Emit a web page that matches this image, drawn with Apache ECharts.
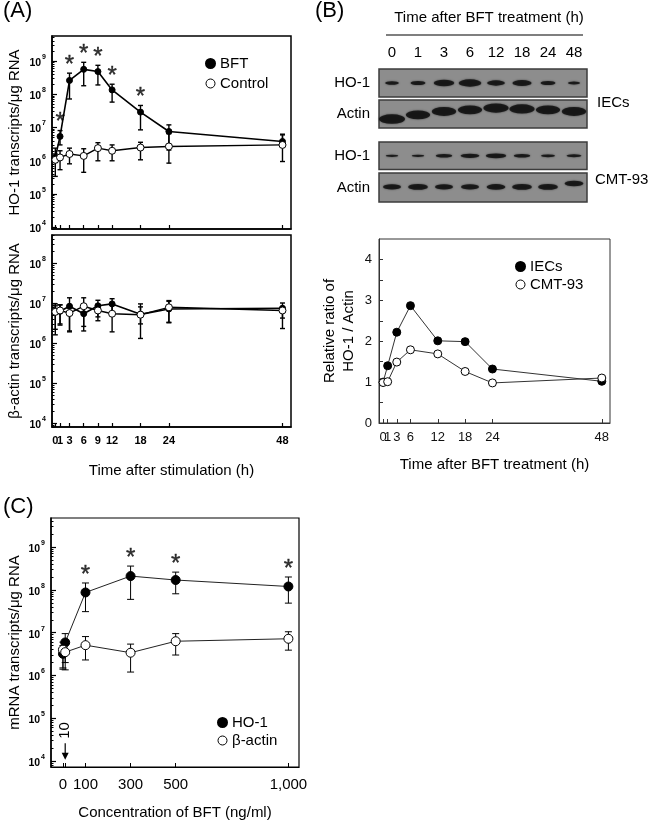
<!DOCTYPE html>
<html><head><meta charset="utf-8">
<script src="https://cdn.jsdelivr.net/npm/echarts@6/dist/echarts.min.js"></script>
<style>html,body{margin:0;padding:0;background:#fff}#c{width:650px;height:824px}</style>
</head><body><div id="c"></div>
<script>
// ---------- Panel A : HO-1 / beta-actin transcripts vs time ----------
const timeA = [0, 1, 3, 6, 9, 12, 18, 24, 48];
const ho1BFT   = [1.26e6, 5.4e6, 2.6e8, 5.6e8, 4.8e8, 1.35e8, 2.9e7, 7.6e6, 3.8e6];
const ho1BFTHi = [1.6e6, 8.1e6, 4.3e8, 9.1e8, 7.4e8, 2.0e8, 4.6e7, 1.2e7, 6.0e6];
const ho1BFTLo = [8.9e5, 3.0e6, 7.2e7, 1.8e8, 1.9e8, 5.8e7, 8.5e6, 2.1e6, 2.7e6];
const ho1Ctl   = [1.07e6, 1.26e6, 1.6e6, 1.4e6, 2.4e6, 2.0e6, 2.5e6, 2.7e6, 3.0e6];
const ho1CtlHi = [2.4e6, 2.0e6, 2.4e6, 2.3e6, 3.5e6, 3.0e6, 3.6e6, 6.5e6, 6.3e6];
const ho1CtlLo = [3.4e5, 5.4e5, 8.1e5, 4.5e5, 1.0e6, 1.0e6, 1.07e6, 8.5e5, 9.5e5];
const sigA = [1, 3, 6, 9, 12, 18];
const actBFT   = [6.4e6, 6.2e6, 8.3e6, 5.4e6, 8.5e6, 9.5e6, 5.2e6, 7.1e6, 7.4e6];
const actBFTHi = [9.5e6, 9.0e6, 1.35e7, 9.0e6, 1.17e7, 1.28e7, 8.0e6, 1.1e7, 1.0e7];
const actBFTLo = [2.2e6, 3.0e6, 1.9e6, 2.0e6, 4.5e6, 5.5e6, 3.0e6, 3.3e6, 4.2e6];
const actCtl   = [6.0e6, 6.5e6, 5.6e6, 8.3e6, 6.5e6, 5.4e6, 5.1e6, 7.8e6, 6.5e6];
const actCtlHi = [8.5e6, 9.0e6, 9.0e6, 1.35e7, 9.0e6, 9.0e6, 9.5e6, 1.15e7, 8.0e6];
const actCtlLo = [1.6e6, 2.8e6, 2.0e6, 2.6e6, 3.6e6, 1.9e6, 1.3e6, 3.2e6, 2.3e6];
const decadesA1 = [4, 5, 6, 7, 8, 9];
const decadesA2 = [4, 5, 6, 7, 8];
const crowdedTick = [1]; // label drawn on its own, next to the 0 label

// ---------- Panel B : western blot + densitometry ----------
const lanes = ['0', '1', '3', '6', '12', '18', '24', '48'];
const iecHO1Int   = [0.25, 0.35, 0.75, 0.9, 0.55, 0.65, 0.35, 0.15];
const iecActInt   = [0.95, 0.85, 0.85, 0.85, 0.9, 0.9, 0.85, 0.85];
const iecActShift = [0.32, 0.47, 0.59, 0.65, 0.71, 0.68, 0.65, 0.59];
const cmtHO1Int   = [0.15, 0.15, 0.4, 0.55, 0.65, 0.4, 0.25, 0.3];
const cmtActInt   = [0.55, 0.65, 0.55, 0.55, 0.6, 0.65, 0.65, 0.6];
const cmtActShift = [0.52, 0.52, 0.52, 0.52, 0.52, 0.52, 0.52, 0.64];
const timeB = [0, 1, 3, 6, 12, 18, 24, 48];
const ratioIEC = [1.0, 1.4, 2.22, 2.87, 2.01, 1.99, 1.32, 1.02];
const ratioCMT = [0.99, 1.01, 1.49, 1.79, 1.69, 1.26, 0.98, 1.10];
const ticksBy = [0, 1, 2, 3, 4];
const minorBy = [0, 0.5, 1, 1.5, 2, 2.5, 3, 3.5, 4];

// ---------- Panel C : dose response ----------
const conc = [0, 10, 100, 300, 500, 1000];
const ho1C   = [3.2e6, 5.9e6, 8.7e7, 2.1e8, 1.7e8, 1.2e8];
const ho1CHi = [5.0e6, 9.5e6, 1.45e8, 3.6e8, 2.6e8, 2.0e8];
const ho1CLo = [1.4e6, 2.0e6, 3.1e7, 6.0e7, 8.1e7, 4.9e7];
const actC   = [4.0e6, 3.5e6, 5.1e6, 3.4e6, 6.3e6, 7.2e6];
const actCHi = [6.0e6, 6.2e6, 8.1e6, 5.4e6, 9.5e6, 1.05e7];
const actCLo = [1.5e6, 1.35e6, 2.3e6, 1.2e6, 3.0e6, 3.9e6];
const sigC = [100, 300, 500, 1000];
const concTicks = [0, 10, 100, 300, 500, 1000];
const concLabels = [0, 100, 300, 500, 1000];
const decadesC = [4, 5, 6, 7, 8, 9];
const arrowC = [[10, 2.6e4, 1.07e4, 5.2e4]]; // x, arrow start, arrow tip, label position

// ---------- helpers ----------
const FF = 'Liberation Sans, Arial, Helvetica, sans-serif';
const L = v => Math.log10(v);
function logMinor(lo, hi) {
  const out = [];
  for (let d = Math.floor(lo); d < hi; d++)
    for (let k = 2; k <= 9; k++) { const v = d + Math.log10(k); if (v > lo && v < hi) out.push(v); }
  return out;
}
const supFmt = v => '{b|10}{s|' + Math.round(v) + '}';
const supRich = {
  b: {fontSize: 10.5, fontWeight: 'bold', fontFamily: FF, color: '#000', lineHeight: 15, verticalAlign: 'bottom'},
  s: {fontSize: 7, fontWeight: 'bold', fontFamily: FF, color: '#000', lineHeight: 15, verticalAlign: 'top', padding: [0, 0, 0, 1]}
};

function lineS(name, xs, ys, xi, yi, filled, size, lw, lcol, logy) {
  return {
    type: 'line', name, xAxisIndex: xi, yAxisIndex: yi, z: 5,
    data: xs.map((x, i) => [x, logy ? L(ys[i]) : ys[i]]),
    symbol: 'circle', symbolSize: size, showSymbol: true,
    lineStyle: {color: lcol, width: lw},
    itemStyle: filled ? {color: '#000', borderColor: '#000', borderWidth: 1} : {color: '#fff', borderColor: '#000', borderWidth: 1},
    emphasis: {disabled: true}, animation: false
  };
}
function errS(xs, lo, hi, xi, yi, cap, lw) {
  return {
    type: 'custom', xAxisIndex: xi, yAxisIndex: yi, z: 3, silent: true,
    data: xs.map((x, i) => [x, L(lo[i]), L(hi[i])]),
    encode: {x: 0, y: [1, 2]},
    renderItem: (p, api) => {
      const x = api.value(0);
      const a = api.coord([x, api.value(1)]), b = api.coord([x, api.value(2)]);
      const st = {stroke: '#000', lineWidth: lw};
      return {type: 'group', children: [
        {type: 'line', shape: {x1: a[0], y1: a[1], x2: b[0], y2: b[1]}, style: st},
        {type: 'line', shape: {x1: a[0] - cap, y1: a[1], x2: a[0] + cap, y2: a[1]}, style: st},
        {type: 'line', shape: {x1: b[0] - cap, y1: b[1], x2: b[0] + cap, y2: b[1]}, style: st}
      ]};
    }
  };
}
function starS(sig, xs, hi, xi, yi, dist) {
  return {
    type: 'scatter', xAxisIndex: xi, yAxisIndex: yi, silent: true, z: 6,
    data: sig.map(s => [s, L(hi[xs.indexOf(s)])]),
    symbolSize: 2, itemStyle: {color: 'rgba(0,0,0,0)'},
    label: {show: true, position: 'top', distance: dist, formatter: '*', fontSize: 24, fontFamily: FF,
            color: '#000', textBorderColor: '#000', textBorderWidth: 0.4}
  };
}
function bandS(xi, yi, intens, shift, wBase, wGain, hBase, hGain) {
  return {
    type: 'scatter', xAxisIndex: xi, yAxisIndex: yi, silent: true, z: 4,
    data: intens.map((v, i) => ({value: [i, shift ? shift[i] : 0.5], symbolSize: [wBase + wGain * v, hBase + hGain * v]})),
    symbol: 'circle',
    itemStyle: {color: '#0c0c0c', shadowBlur: 2, shadowColor: 'rgba(0,0,0,0.7)'}
  };
}
function logY(gi, min, max, decs, name, gap) {
  return {
    type: 'value', gridIndex: gi, min, max, position: 'left',
    name, nameLocation: 'middle', nameGap: gap, nameRotate: 90,
    nameTextStyle: {fontSize: 15, fontFamily: FF, color: '#000'},
    axisLine: {show: true, onZero: false, lineStyle: {color: '#000', width: 1.5}},
    axisTick: {show: true, inside: true, length: 5, lineStyle: {color: '#000', width: 1.2}, customValues: decs},
    axisLabel: {show: true, margin: 6, formatter: supFmt, rich: supRich, customValues: decs},
    splitLine: {show: false}
  };
}
function minorY(gi, min, max) {
  return {
    type: 'value', gridIndex: gi, min, max, position: 'left',
    axisLine: {show: false, onZero: false}, axisLabel: {show: false}, splitLine: {show: false},
    axisTick: {show: true, inside: true, length: 2.5, lineStyle: {color: '#000', width: 1}, customValues: logMinor(min, max)}
  };
}
function extraX(gi, min, max, vals, lab) {
  return {
    type: 'value', gridIndex: gi, min, max, position: 'bottom',
    axisLine: {show: false, onZero: false}, axisTick: {show: false}, splitLine: {show: false},
    axisLabel: Object.assign({customValues: vals, hideOverlap: false}, lab)
  };
}

const blotGrid = (top, h) => ({left: 379, top, width: 208, height: h, show: true, backgroundColor: '#8d8d8d', borderColor: '#3c3c3c', borderWidth: 1.5, outerBoundsMode: 'none'});
const xLab = {hideOverlap: false, showMinLabel: true, showMaxLabel: true};
const labA = {margin: 8, fontSize: 11, fontWeight: 'bold', color: '#000', fontFamily: FF};
const labB = {margin: 8, fontSize: 13, color: '#111', fontFamily: FF};
const legText = {fontSize: 15, fontFamily: FF, color: '#000'};

const option = {
  animation: false,
  backgroundColor: '#fff',
  textStyle: {fontFamily: FF},
  grid: [
    {left: 52, top: 36, width: 239, height: 193, show: true, borderColor: '#000', borderWidth: 1.5, outerBoundsMode: 'none'},
    {left: 52, top: 235, width: 239, height: 192, show: true, borderColor: '#000', borderWidth: 1.5, outerBoundsMode: 'none'},
    {left: 379, top: 239, width: 231, height: 184, show: true, borderColor: '#333', borderWidth: 1, outerBoundsMode: 'none'},
    {left: 51, top: 518, width: 248, height: 249, show: true, borderColor: '#000', borderWidth: 1.2, outerBoundsMode: 'none'},
    blotGrid(69, 28), blotGrid(100, 28), blotGrid(142, 27.5), blotGrid(173, 29)
  ],
  xAxis: [
    {type: 'value', gridIndex: 0, min: -0.7, max: 49.8,
     axisLine: {onZero: false, lineStyle: {color: '#000', width: 1.5}},
     axisTick: {inside: true, length: 4, lineStyle: {color: '#000', width: 1.2}, customValues: timeA},
     axisLabel: {show: false}, splitLine: {show: false}},
    {type: 'value', gridIndex: 1, min: -0.7, max: 49.8,
     name: 'Time after stimulation (h)', nameLocation: 'middle', nameGap: 36,
     nameTextStyle: {fontSize: 15, fontFamily: FF, color: '#000'},
     axisLine: {onZero: false, lineStyle: {color: '#000', width: 1.5}},
     axisTick: {inside: true, length: 4, lineStyle: {color: '#000', width: 1.2}, customValues: timeA},
     axisLabel: Object.assign({customValues: timeA.filter(v => !crowdedTick.includes(v))}, labA, xLab),
     splitLine: {show: false}},
    {type: 'value', gridIndex: 2, min: -0.9, max: 49.8,
     name: 'Time after BFT treatment (h)', nameLocation: 'middle', nameGap: 34,
     nameTextStyle: {fontSize: 15, fontFamily: FF, color: '#000'},
     axisLine: {onZero: false, lineStyle: {color: '#333', width: 1}},
     axisTick: {inside: true, length: 4, lineStyle: {color: '#333', width: 1}, customValues: timeB},
     axisLabel: Object.assign({customValues: timeB.filter(v => !crowdedTick.includes(v))}, labB, xLab),
     splitLine: {show: false}},
    {type: 'value', gridIndex: 3, min: -53, max: 1047,
     name: 'Concentration of BFT (ng/ml)', nameLocation: 'middle', nameGap: 38,
     nameTextStyle: {fontSize: 15, fontFamily: FF, color: '#000'},
     axisLine: {onZero: false, lineStyle: {color: '#000', width: 1.2}},
     axisTick: {inside: true, length: 4, lineStyle: {color: '#000', width: 1}, customValues: concTicks},
     axisLabel: Object.assign({margin: 10, fontSize: 15, color: '#000', fontFamily: FF, customValues: concLabels,
       formatter: v => v >= 1000 ? (v / 1000) + ',000' : String(v)}, xLab),
     splitLine: {show: false}},
    {type: 'category', gridIndex: 4, data: lanes, position: 'top',
     axisLine: {show: false}, axisTick: {show: false},
     axisLabel: {show: true, margin: 9, fontSize: 15, color: '#000', fontFamily: FF, interval: 0}},
    {type: 'category', gridIndex: 5, data: lanes, show: false},
    {type: 'category', gridIndex: 6, data: lanes, show: false},
    {type: 'category', gridIndex: 7, data: lanes, show: false},
    extraX(1, -0.7, 49.8, crowdedTick, labA),
    extraX(2, -0.9, 49.8, crowdedTick, labB)
  ],
  yAxis: [
    logY(0, 3.95, 9.75, decadesA1, 'HO-1 transcripts/μg RNA', 30),
    logY(1, 3.9, 8.7, decadesA2, 'β-actin transcripts/μg RNA', 30),
    {type: 'value', gridIndex: 2, min: 0, max: 4.5,
     name: 'Relative ratio of\nHO-1 / Actin', nameLocation: 'middle', nameGap: 21, nameRotate: 90,
     nameTextStyle: {fontSize: 15, lineHeight: 19, fontFamily: FF, color: '#000', align: 'center'},
     axisLine: {show: true, onZero: false, lineStyle: {color: '#333', width: 1}},
     axisTick: {show: true, inside: true, length: 4, lineStyle: {color: '#333', width: 1}, customValues: minorBy},
     axisLabel: {margin: 7, fontSize: 13, color: '#111', fontFamily: FF, customValues: ticksBy},
     splitLine: {show: false}},
    logY(3, 3.86, 9.68, decadesC, 'mRNA transcripts/μg RNA', 29),
    {type: 'value', gridIndex: 4, min: 0, max: 1, show: false},
    {type: 'value', gridIndex: 5, min: 0, max: 1, show: false},
    {type: 'value', gridIndex: 6, min: 0, max: 1, show: false},
    {type: 'value', gridIndex: 7, min: 0, max: 1, show: false},
    minorY(0, 3.95, 9.75),
    minorY(1, 3.9, 8.7),
    minorY(3, 3.86, 9.68)
  ],
  legend: [
    {orient: 'vertical', left: 205, top: 56, padding: 0, itemWidth: 9, itemHeight: 9, itemGap: 5, icon: 'circle', selectedMode: false,
     textStyle: legText,
     data: [{name: 'BFT', itemStyle: {color: '#000', borderColor: '#000'}}, {name: 'Control', itemStyle: {color: '#fff', borderColor: '#000', borderWidth: 1}}]},
    {orient: 'vertical', left: 515, top: 259, padding: 0, itemWidth: 9, itemHeight: 9, itemGap: 3, icon: 'circle', selectedMode: false,
     textStyle: legText,
     data: [{name: 'IECs', itemStyle: {color: '#000', borderColor: '#000'}}, {name: 'CMT-93', itemStyle: {color: '#fff', borderColor: '#000', borderWidth: 1}}]},
    {orient: 'vertical', left: 217, top: 715, padding: 0, itemWidth: 9, itemHeight: 9, itemGap: 3, icon: 'circle', selectedMode: false,
     textStyle: legText,
     data: [{name: 'HO-1', itemStyle: {color: '#000', borderColor: '#000'}}, {name: 'β-actin', itemStyle: {color: '#fff', borderColor: '#000', borderWidth: 1}}]}
  ],
  series: [
    // Panel A top
    errS(timeA, ho1CtlLo, ho1CtlHi, 0, 0, 2.5, 1.4),
    errS(timeA, ho1BFTLo, ho1BFTHi, 0, 0, 2.5, 1.4),
    lineS('BFT', timeA, ho1BFT, 0, 0, true, 6, 1.6, '#000', true),
    lineS('Control', timeA, ho1Ctl, 0, 0, false, 7, 1.4, '#000', true),
    starS(sigA, timeA, ho1BFTHi, 0, 0, -5),
    // Panel A bottom
    errS(timeA, actCtlLo, actCtlHi, 1, 1, 2.5, 1.4),
    errS(timeA, actBFTLo, actBFTHi, 1, 1, 2.5, 1.4),
    lineS('BFT', timeA, actBFT, 1, 1, true, 6, 1.6, '#000', true),
    lineS('Control', timeA, actCtl, 1, 1, false, 7, 1.4, '#000', true),
    // Panel B plot
    lineS('IECs', timeB, ratioIEC, 2, 2, true, 8, 1, '#333', false),
    lineS('CMT-93', timeB, ratioCMT, 2, 2, false, 8, 1, '#333', false),
    // Panel B blots
    bandS(4, 4, iecHO1Int, null, 10, 14, 2, 6),
    bandS(5, 5, iecActInt, iecActShift, 8, 19, 2, 8),
    bandS(6, 6, cmtHO1Int, null, 10, 16, 1.5, 5),
    bandS(7, 7, cmtActInt, cmtActShift, 8, 18, 2, 6),
    // Panel C
    errS(conc, actCLo, actCHi, 3, 3, 3.5, 1),
    errS(conc, ho1CLo, ho1CHi, 3, 3, 3.5, 1),
    lineS('HO-1', conc, ho1C, 3, 3, true, 9, 1, '#222', true),
    lineS('β-actin', conc, actC, 3, 3, false, 9, 1, '#222', true),
    starS(sigC, conc, ho1CHi, 3, 3, -5),
    {type: 'custom', xAxisIndex: 3, yAxisIndex: 3, silent: true, z: 6,
     data: arrowC.map(r => [r[0], L(r[1]), L(r[2]), L(r[3])]),
     encode: {x: 0, y: [1, 2, 3]},
     renderItem: (p, api) => {
       const x = api.value(0);
       const a = api.coord([x, api.value(1)]), b = api.coord([x, api.value(2)]), t = api.coord([x, api.value(3)]);
       return {type: 'group', children: [
         {type: 'line', shape: {x1: a[0], y1: a[1], x2: b[0], y2: b[1] - 6}, style: {stroke: '#000', lineWidth: 1.2}},
         {type: 'polygon', shape: {points: [[b[0] - 3.5, b[1] - 7], [b[0] + 3.5, b[1] - 7], [b[0], b[1]]]}, style: {fill: '#000'}},
         {type: 'text', x: t[0], y: t[1], rotation: Math.PI / 2,
          style: {text: '10', fontSize: 15, fontFamily: FF, fill: '#000', align: 'center', verticalAlign: 'middle'}}
       ]};
     }}
  ],
  graphic: [
    {type: 'text', left: 3, top: 0, style: {text: '(A)', fontSize: 22, fontFamily: FF, fill: '#000'}},
    {type: 'text', left: 315, top: 0, style: {text: '(B)', fontSize: 22, fontFamily: FF, fill: '#000'}},
    {type: 'text', left: 3, top: 496, style: {text: '(C)', fontSize: 22, fontFamily: FF, fill: '#000'}},
    {type: 'text', x: 489, y: 18, style: {text: 'Time after BFT treatment (h)', fontSize: 15, fontFamily: FF, fill: '#000', align: 'center', verticalAlign: 'middle'}},
    {type: 'line', shape: {x1: 386, y1: 35, x2: 583, y2: 35}, style: {stroke: '#000', lineWidth: 1.2}},
    {type: 'text', x: 370, y: 83, style: {text: 'HO-1', fontSize: 15, fontFamily: FF, fill: '#000', align: 'right', verticalAlign: 'middle'}},
    {type: 'text', x: 370, y: 114, style: {text: 'Actin', fontSize: 15, fontFamily: FF, fill: '#000', align: 'right', verticalAlign: 'middle'}},
    {type: 'text', x: 370, y: 156, style: {text: 'HO-1', fontSize: 15, fontFamily: FF, fill: '#000', align: 'right', verticalAlign: 'middle'}},
    {type: 'text', x: 370, y: 188, style: {text: 'Actin', fontSize: 15, fontFamily: FF, fill: '#000', align: 'right', verticalAlign: 'middle'}},
    {type: 'text', x: 597, y: 103, style: {text: 'IECs', fontSize: 15, fontFamily: FF, fill: '#000', align: 'left', verticalAlign: 'middle'}},
    {type: 'text', x: 595, y: 180, style: {text: 'CMT-93', fontSize: 15, fontFamily: FF, fill: '#000', align: 'left', verticalAlign: 'middle'}}
  ]
};
const chart = echarts.init(document.getElementById('c'), null, {renderer: 'canvas'});
chart.setOption(option);
</script></body></html>
